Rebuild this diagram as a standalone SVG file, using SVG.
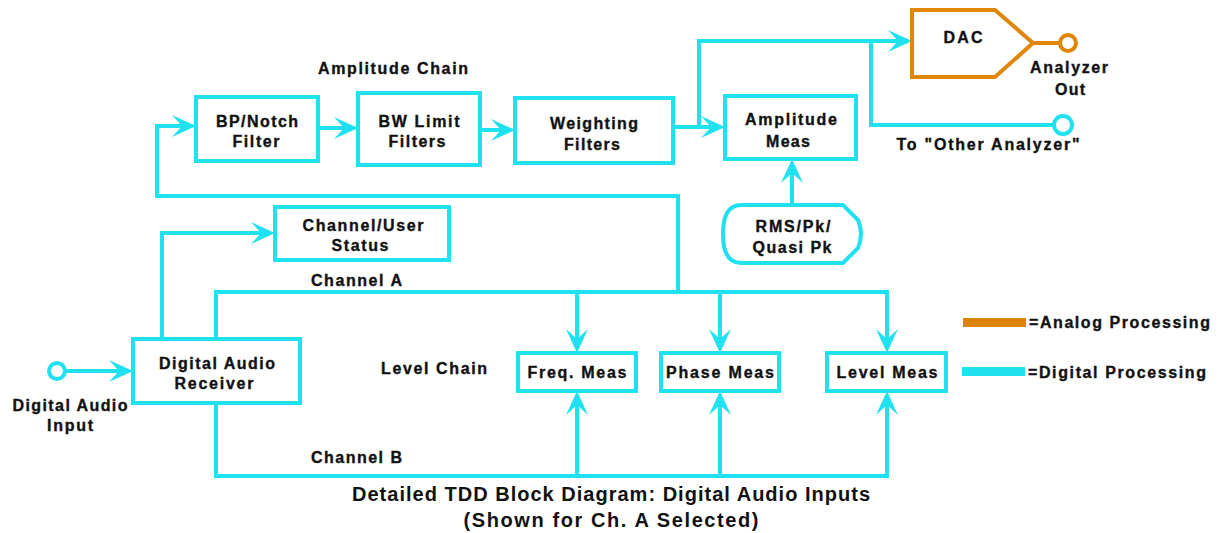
<svg xmlns="http://www.w3.org/2000/svg" width="1222" height="533" viewBox="0 0 1222 533">
<defs>
<style>
.bx{fill:#fff;stroke:#1fe1f0;stroke-width:4}
.an{fill:#fff;stroke:#e0870a;stroke-width:4}
.ln{fill:none;stroke:#1fe1f0;stroke-width:4}
.la{fill:none;stroke:#e0870a;stroke-width:4}
.t{font-family:"Liberation Sans",Arial,sans-serif;font-weight:bold;font-size:16px;fill:#111;stroke:#111;stroke-width:0.35;text-anchor:middle}
.tl{font-family:"Liberation Sans",Arial,sans-serif;font-weight:bold;font-size:16px;fill:#111;stroke:#111;stroke-width:0.35}
.cap{font-family:"Liberation Sans",Arial,sans-serif;font-weight:bold;font-size:20px;fill:#111;text-anchor:middle}
</style>
<marker id="ar" markerUnits="userSpaceOnUse" markerWidth="30" markerHeight="26" viewBox="-26 -13 30 26" refX="-4" refY="0" orient="auto">
<path d="M0,0 L-24,-11 L-14,0 L-24,11 Z" fill="#1fe1f0"/>
</marker>
</defs>
<rect width="1222" height="533" fill="#fff"/>

<g id="connectors">
<path class="ln" d="M65,371 H129" marker-end="url(#ar)"/>
<path class="ln" d="M162,339 V233 H271" marker-end="url(#ar)"/>
<path class="ln" d="M216,339 V292 H887 V349" marker-end="url(#ar)"/>
<path class="ln" d="M577,292 V349" marker-end="url(#ar)"/>
<path class="ln" d="M720,292 V349" marker-end="url(#ar)"/>
<path class="ln" d="M678,292 V196 H157 V126 H192" marker-end="url(#ar)"/>
<path class="ln" d="M318,128 H354" marker-end="url(#ar)"/>
<path class="ln" d="M480,130 H511" marker-end="url(#ar)"/>
<path class="ln" d="M673,127 H721" marker-end="url(#ar)"/>
<path class="ln" d="M699,127 V41 H908" marker-end="url(#ar)"/>
<path class="ln" d="M871,41 V125 H1054"/>
<path class="ln" d="M792,205 V163" marker-end="url(#ar)"/>
<path class="ln" d="M216,403 V476 H887 V395" marker-end="url(#ar)"/>
<path class="ln" d="M577,476 V395" marker-end="url(#ar)"/>
<path class="ln" d="M720,476 V395" marker-end="url(#ar)"/>
<path class="la" d="M1033,43 H1060"/>
</g>

<g id="input">
<circle class="bx" cx="57" cy="371" r="8"/>
<text class="t" x="70" y="411" textLength="115" lengthAdjust="spacing">Digital Audio</text>
<text class="t" x="70" y="431" textLength="46" lengthAdjust="spacing">Input</text>
</g>

<g id="receiver">
<rect class="bx" x="133" y="339" width="167" height="64"/>
<text class="t" x="217" y="369" textLength="116" lengthAdjust="spacing">Digital Audio</text>
<text class="t" x="214" y="389" textLength="79" lengthAdjust="spacing">Receiver</text>
</g>

<g id="chstatus">
<rect class="bx" x="275" y="207" width="174" height="53"/>
<text class="t" x="363" y="231" textLength="121" lengthAdjust="spacing">Channel/User</text>
<text class="t" x="360" y="251" textLength="57" lengthAdjust="spacing">Status</text>
</g>

<g id="bpnotch">
<rect class="bx" x="196" y="97" width="122" height="64"/>
<text class="t" x="257" y="127" textLength="82" lengthAdjust="spacing">BP/Notch</text>
<text class="t" x="256" y="147" textLength="47" lengthAdjust="spacing">Filter</text>
</g>

<g id="bwlimit">
<rect class="bx" x="358" y="93" width="122" height="72"/>
<text class="t" x="419" y="127" textLength="81" lengthAdjust="spacing">BW Limit</text>
<text class="t" x="417" y="147" textLength="57" lengthAdjust="spacing">Filters</text>
</g>

<g id="weighting">
<rect class="bx" x="515" y="98" width="158" height="65"/>
<text class="t" x="594" y="129" textLength="88" lengthAdjust="spacing">Weighting</text>
<text class="t" x="592" y="150" textLength="56" lengthAdjust="spacing">Filters</text>
</g>

<g id="ampmeas">
<rect class="bx" x="725" y="96" width="131" height="63"/>
<text class="t" x="791" y="125" textLength="92" lengthAdjust="spacing">Amplitude</text>
<text class="t" x="788" y="147" textLength="44" lengthAdjust="spacing">Meas</text>
</g>

<g id="rms">
<path class="bx" d="M741,205 H843 L858,220 Q864,234 858,248 L843,263 H741 Q723,263 723,234 Q723,205 741,205 Z"/>
<text class="t" x="793" y="232" textLength="75" lengthAdjust="spacing">RMS/Pk/</text>
<text class="t" x="792" y="253" textLength="79" lengthAdjust="spacing">Quasi Pk</text>
</g>

<g id="dac">
<polygon class="an" points="912,10 995,10 1033,43 995,77 912,77"/>
<text class="t" x="963" y="43" textLength="39" lengthAdjust="spacing">DAC</text>
</g>

<g id="analyzerout">
<circle class="an" cx="1068" cy="43" r="8"/>
<text class="t" x="1069" y="73" textLength="78" lengthAdjust="spacing">Analyzer</text>
<text class="t" x="1070" y="95" textLength="30" lengthAdjust="spacing">Out</text>
</g>

<g id="otheranalyzer">
<circle class="bx" cx="1063" cy="125" r="9"/>
<text class="t" x="988" y="150" textLength="183" lengthAdjust="spacing">To "Other Analyzer"</text>
</g>

<g id="freq">
<rect class="bx" x="518" y="353" width="118" height="38"/>
<text class="t" x="577" y="378" textLength="99" lengthAdjust="spacing">Freq. Meas</text>
</g>

<g id="phase">
<rect class="bx" x="661" y="353" width="118" height="38"/>
<text class="t" x="720" y="378" textLength="108" lengthAdjust="spacing">Phase Meas</text>
</g>

<g id="level">
<rect class="bx" x="827" y="353" width="119" height="38"/>
<text class="t" x="887" y="378" textLength="101" lengthAdjust="spacing">Level Meas</text>
</g>

<g id="labels">
<text class="tl" x="318" y="74" textLength="150" lengthAdjust="spacing">Amplitude Chain</text>
<text class="tl" x="311" y="286" textLength="91" lengthAdjust="spacing">Channel A</text>
<text class="tl" x="381" y="374" textLength="106" lengthAdjust="spacing">Level Chain</text>
<text class="tl" x="311" y="463" textLength="91" lengthAdjust="spacing">Channel B</text>
</g>

<g id="legend">
<rect x="963" y="318" width="63" height="9" fill="#dc8400"/>
<text class="tl" x="1029" y="328" textLength="181" lengthAdjust="spacing">=Analog Processing</text>
<rect x="962" y="367" width="63" height="9" fill="#1fe1f0"/>
<text class="tl" x="1028" y="378" textLength="178" lengthAdjust="spacing">=Digital Processing</text>
</g>

<g id="caption">
<text class="cap" x="611" y="501" textLength="518" lengthAdjust="spacing">Detailed TDD Block Diagram: Digital Audio Inputs</text>
<text class="cap" x="611" y="527" textLength="295" lengthAdjust="spacing">(Shown for Ch. A Selected)</text>
</g>
</svg>
